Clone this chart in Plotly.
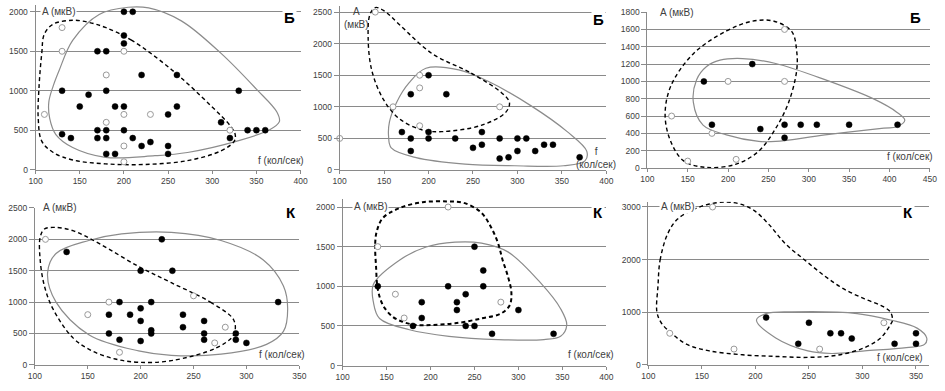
import plotly.graph_objects as go

W, H = 945, 391

# ---------------- Panel 1 (Б) ----------------
P1_FILLED_X = [200, 210, 200, 200, 170, 180, 220, 260, 130, 180, 330, 160, 150, 190, 200, 260, 250, 310,
               130, 140, 170, 180, 200, 170, 180, 210, 340, 350, 360, 320, 220, 230, 250, 250, 180, 190]
P1_FILLED_Y = [2000, 2000, 1700, 1600, 1500, 1500, 1200, 1200, 1000, 1000, 1000, 950, 800, 800, 800, 800, 700, 600,
               450, 400, 500, 500, 500, 400, 400, 400, 500, 500, 500, 400, 300, 350, 300, 200, 200, 200]
P1_OPEN_X = [130, 130, 110, 180, 200, 180, 200, 230, 320, 200, 200]
P1_OPEN_Y = [1800, 1500, 700, 1200, 1500, 600, 700, 700, 500, 300, 100]
P1_SOLID_X = [310, 265, 228, 205, 172, 142, 127, 120, 115, 116, 123, 142, 179, 235, 272, 328, 365, 376, 373, 350, 310]
P1_SOLID_Y = [1473, 1885, 2049, 2058, 1967, 1638, 1267, 1062, 856, 650, 444, 280, 156, 177, 218, 362, 506, 609, 733, 1020, 1473]
P1_DASH_X = [254, 209, 179, 161, 142, 120, 110, 107, 104, 103, 107, 120, 142, 179, 224, 272, 310, 325, 326, 321, 298, 254]
P1_DASH_Y = [1267, 1638, 1802, 1864, 1893, 1844, 1720, 1473, 1062, 650, 362, 218, 123, 74, 66, 115, 239, 362, 444, 547, 815, 1267]

# ---------------- Panel 2 (Б) ----------------
P2_FILLED_X = [200, 180, 220, 170, 180, 200, 200, 230, 180, 260, 260, 250, 280, 280, 290, 300, 310, 300, 320, 330, 340, 370]
P2_FILLED_Y = [1500, 1200, 1200, 600, 500, 600, 500, 500, 300, 600, 400, 350, 500, 180, 200, 500, 500, 300, 300, 400, 400, 200]
P2_OPEN_X = [140, 190, 190, 160, 280, 190, 100]
P2_OPEN_Y = [2500, 1500, 1300, 1000, 1000, 700, 500]
P2_SOLID_X = [315, 356, 378, 376, 352, 297, 241, 186, 158, 155, 156, 164, 178, 197, 234, 267, 315]
P2_SOLID_Y = [1019, 607, 298, 144, 67, 67, 93, 195, 350, 530, 761, 1070, 1378, 1610, 1584, 1404, 1019]
P2_DASH_X = [204, 248, 282, 291, 287, 260, 215, 193, 167, 149, 136, 132, 134, 140, 150, 167, 204]
P2_DASH_Y = [1842, 1533, 1224, 1070, 916, 710, 607, 633, 813, 1121, 1584, 2099, 2459, 2572, 2520, 2305, 1842]

# ---------------- Panel 3 (Б) ----------------
P3_FILLED_X = [170, 230, 180, 240, 270, 270, 290, 310, 350, 410]
P3_FILLED_Y = [1000, 1200, 500, 450, 500, 350, 500, 500, 500, 500]
P3_OPEN_X = [270, 200, 270, 130, 180, 150, 210]
P3_OPEN_Y = [1600, 1000, 1000, 600, 400, 80, 100]
P3_SOLID_X = [320, 381, 409, 419, 409, 393, 320, 259, 238, 198, 169, 157, 161, 173, 190, 218, 259, 320]
P3_SOLID_Y = [1020, 795, 645, 551, 476, 461, 382, 307, 307, 382, 495, 757, 1020, 1170, 1245, 1264, 1207, 1020]
P3_DASH_X = [157, 198, 230, 257, 279, 285, 285, 275, 259, 238, 210, 173, 145, 129, 122, 129, 157]
P3_DASH_Y = [1320, 1582, 1695, 1695, 1575, 1350, 1125, 757, 457, 195, 45, 7, 82, 307, 607, 945, 1320]

# ---------------- Panel 4 (К) ----------------
P4_FILLED_X = [130, 220, 200, 230, 180, 210, 330, 200, 170, 190, 200, 240, 260, 240, 210, 210, 170, 260, 290, 180, 200, 260, 290, 300]
P4_FILLED_Y = [1800, 2000, 1500, 1500, 1000, 1000, 1000, 900, 800, 800, 700, 800, 700, 600, 550, 500, 500, 500, 500, 400, 380, 400, 400, 350]
P4_OPEN_X = [110, 170, 150, 250, 280, 270, 180]
P4_OPEN_Y = [2000, 1000, 800, 1100, 600, 350, 200]
P4_SOLID_X = [229, 276, 316, 335, 339, 335, 319, 276, 229, 198, 151, 120, 112, 120, 151, 182, 229]
P4_SOLID_Y = [2112, 1982, 1672, 1258, 895, 533, 326, 171, 152, 223, 481, 999, 1465, 1775, 1982, 2086, 2112]
P4_DASH_X = [229, 266, 288, 288, 272, 229, 198, 176, 154, 136, 117, 109, 105, 105, 109, 119, 136, 161, 198, 229]
P4_DASH_Y = [1309, 999, 714, 481, 274, 67, 41, 93, 223, 430, 895, 1258, 1672, 2035, 2164, 2190, 2138, 1931, 1568, 1309]

# ---------------- Panel 5 (К) ----------------
P5_FILLED_X = [140, 250, 260, 260, 220, 240, 230, 230, 190, 190, 180, 240, 250, 300, 270, 340]
P5_FILLED_Y = [1000, 1500, 1200, 1000, 1000, 900, 800, 700, 800, 600, 500, 500, 500, 700, 400, 400]
P5_OPEN_X = [220, 140, 160, 170, 280]
P5_OPEN_Y = [2000, 1500, 900, 600, 800]
P5_SOLID_X = [325, 348, 355, 348, 329, 277, 221, 176, 142, 135, 135, 165, 195, 228, 258, 288, 325]
P5_SOLID_Y = [1045, 717, 512, 369, 328, 328, 369, 451, 594, 799, 1025, 1332, 1496, 1557, 1545, 1434, 1045]
P5_DASH_X = [138, 137, 139, 146, 165, 191, 219, 239, 258, 269, 277, 282, 288, 292, 290, 280, 258, 228, 202, 183, 168, 157, 146, 140, 138]
P5_DASH_Y = [1250, 1537, 1701, 1865, 1988, 2061, 2070, 2049, 1926, 1742, 1537, 1332, 1127, 922, 758, 656, 594, 533, 512, 512, 553, 615, 758, 963, 1250]

# ---------------- Panel 6 (К) ----------------
P6_FILLED_X = [210, 250, 240, 270, 280, 290, 330, 350, 350]
P6_FILLED_Y = [900, 800, 400, 600, 600, 500, 400, 600, 400]
P6_OPEN_X = [160, 120, 180, 260, 320]
P6_OPEN_Y = [3000, 600, 300, 300, 800]
P6_SOLID_X = [234, 210, 201, 219, 249, 271, 302, 341, 358, 360, 351, 326, 295, 234]
P6_SOLID_Y = [1006, 975, 852, 512, 265, 216, 265, 327, 389, 512, 698, 852, 975, 1006]
P6_DASH_X = [109, 111, 118, 127, 142, 157, 173, 186, 199, 213, 228, 246, 265, 283, 302, 317, 326, 328, 326, 317, 302,
             277, 249, 219, 188, 157, 136, 122, 112, 108, 109]
P6_DASH_Y = [1500, 1994, 2488, 2765, 2951, 3056, 3093, 3055, 2930, 2660, 2302, 1994, 1685, 1438, 1253, 1130, 1006, 850,
             759, 512, 327, 185, 142, 160, 191, 265, 389, 593, 800, 1006, 1500]

# tick values
X_TICKS_1 = [100, 150, 200, 250, 300, 350, 400]
X_TICKS_2 = [100, 150, 200, 250, 300, 350, 400]
X_TICKS_3 = [100, 150, 200, 250, 300, 350, 400, 450]
X_TICKS_4 = [100, 150, 200, 250, 300, 350]
X_TICKS_5 = [100, 150, 200, 250, 300, 350, 400]
X_TICKS_6 = [100, 150, 200, 250, 300, 350]
Y_TICKS_1 = [0, 500, 1000, 1500, 2000]
Y_TICKS_2 = [0, 500, 1000, 1500, 2000, 2500]
Y_TICKS_3 = [0, 200, 400, 600, 800, 1000, 1200, 1400, 1600, 1800]
Y_TICKS_4 = [0, 500, 1000, 1500, 2000, 2500]
Y_TICKS_5 = [0, 500, 1000, 1500, 2000]
Y_TICKS_6 = [0, 1000, 2000, 3000]

LETTERS = ["Б", "Б", "Б", "К", "К", "К"]
Y_LABEL = "A (мкВ)"
Y_LABEL_2 = "A<br>(мкВ)"
X_LABEL = "f (кол/сек)"
X_LABEL_2 = "f<br>(кол/сек)"

panels = [
    dict(fx=P1_FILLED_X, fy=P1_FILLED_Y, ox=P1_OPEN_X, oy=P1_OPEN_Y, sx=P1_SOLID_X, sy=P1_SOLID_Y,
         dx=P1_DASH_X, dy=P1_DASH_Y, xt=X_TICKS_1, yt=Y_TICKS_1,
         xr=[100, 400], yr=[0, 2080], px=(29, 298), py=(169, 0.5), dw=1.4),
    dict(fx=P2_FILLED_X, fy=P2_FILLED_Y, ox=P2_OPEN_X, oy=P2_OPEN_Y, sx=P2_SOLID_X, sy=P2_SOLID_Y,
         dx=P2_DASH_X, dy=P2_DASH_Y, xt=X_TICKS_2, yt=Y_TICKS_2,
         xr=[100, 400], yr=[0, 2600], px=(337.7, 608.3), py=(169.3, 0.8), dw=1.4),
    dict(fx=P3_FILLED_X, fy=P3_FILLED_Y, ox=P3_OPEN_X, oy=P3_OPEN_Y, sx=P3_SOLID_X, sy=P3_SOLID_Y,
         dx=P3_DASH_X, dy=P3_DASH_Y, xt=X_TICKS_3, yt=Y_TICKS_3,
         xr=[100, 450], yr=[0, 1800], px=(650, 936.7), py=(167.3, 7.3), dw=1.4),
    dict(fx=P4_FILLED_X, fy=P4_FILLED_Y, ox=P4_OPEN_X, oy=P4_OPEN_Y, sx=P4_SOLID_X, sy=P4_SOLID_Y,
         dx=P4_DASH_X, dy=P4_DASH_Y, xt=X_TICKS_4, yt=Y_TICKS_4,
         xr=[100, 350], yr=[0, 2500], px=(28.3, 296.7), py=(369.3, 208.3), dw=1.4),
    dict(fx=P5_FILLED_X, fy=P5_FILLED_Y, ox=P5_OPEN_X, oy=P5_OPEN_Y, sx=P5_SOLID_X, sy=P5_SOLID_Y,
         dx=P5_DASH_X, dy=P5_DASH_Y, xt=X_TICKS_5, yt=Y_TICKS_5,
         xr=[100, 400], yr=[0, 2100], px=(340.7, 608.3), py=(370, 199.2), dw=2.0),
    dict(fx=P6_FILLED_X, fy=P6_FILLED_Y, ox=P6_OPEN_X, oy=P6_OPEN_Y, sx=P6_SOLID_X, sy=P6_SOLID_Y,
         dx=P6_DASH_X, dy=P6_DASH_Y, xt=X_TICKS_6, yt=Y_TICKS_6,
         xr=[100, 362], yr=[0, 3100], px=(651, 935.7), py=(369.3, 201.9), dw=1.4),
]

GRID = "#8a8a8a"
AXIS = "#8a8a8a"
TXT = "#404040"
FONT = "Liberation Sans, Arial, sans-serif"

fig = go.Figure()
layout = dict(width=W, height=H, margin=dict(l=0, r=0, t=0, b=0),
              paper_bgcolor="white", plot_bgcolor="white", showlegend=False,
              font=dict(family=FONT, size=9, color=TXT))
annotations = []

for i, p in enumerate(panels):
    n = i + 1
    xa = "x" if n == 1 else f"x{n}"
    ya = "y" if n == 1 else f"y{n}"
    xkey = "xaxis" if n == 1 else f"xaxis{n}"
    ykey = "yaxis" if n == 1 else f"yaxis{n}"
    layout[xkey] = dict(domain=[p["px"][0] / W, p["px"][1] / W], range=p["xr"], anchor=ya,
                        tickmode="array", tickvals=p["xt"], ticktext=[str(v) for v in p["xt"]],
                        showgrid=False, zeroline=False, showline=True, linecolor=AXIS, linewidth=1,
                        ticks="outside", ticklen=3, tickcolor=AXIS, tickwidth=1,
                        tickfont=dict(size=8.5, color=TXT, family=FONT), fixedrange=True)
    layout[ykey] = dict(domain=[1 - p["py"][0] / H, 1 - p["py"][1] / H], range=p["yr"], anchor=xa,
                        tickmode="array", tickvals=p["yt"], ticktext=[str(v) for v in p["yt"]],
                        showgrid=True, gridcolor=GRID, gridwidth=1, zeroline=False,
                        showline=True, linecolor=AXIS, linewidth=1,
                        ticks="outside", ticklen=5, tickcolor=AXIS, tickwidth=1,
                        tickfont=dict(size=8.5, color=TXT, family=FONT), fixedrange=True)

    fig.add_trace(go.Scatter(x=p["sx"], y=p["sy"], mode="lines", xaxis=xa, yaxis=ya,
                             line=dict(color="#8c8c8c", width=1.2, shape="spline", smoothing=1.0),
                             hoverinfo="skip"))
    fig.add_trace(go.Scatter(x=p["dx"], y=p["dy"], mode="lines", xaxis=xa, yaxis=ya,
                             line=dict(color="black", width=p["dw"], dash="4px,3px", shape="spline", smoothing=1.0),
                             hoverinfo="skip"))
    fig.add_trace(go.Scatter(x=p["fx"], y=p["fy"], mode="markers", xaxis=xa, yaxis=ya, cliponaxis=False,
                             marker=dict(size=6, color="black", line=dict(color="black", width=0.5))))
    fig.add_trace(go.Scatter(x=p["ox"], y=p["oy"], mode="markers", xaxis=xa, yaxis=ya, cliponaxis=False,
                             marker=dict(size=6, color="white", line=dict(color="#9a9a9a", width=1))))

# axis labels and panel letters (positions in pixels)
YLAB_POS = [(34, 7, Y_LABEL), (355, 13, Y_LABEL_2), (661, 7.3, Y_LABEL),
            (35, 208.3, Y_LABEL), (350, 207.3, Y_LABEL), (662, 207.3, Y_LABEL)]
for k, (x, y, t) in enumerate(YLAB_POS):
    annotations.append(dict(xref="paper", yref="paper", x=x / W, y=1 - y / H, text=t, showarrow=False,
                            xanchor="center" if k == 1 else "left", yanchor="middle",
                            bgcolor="white" if k != 1 else None, borderpad=1,
                            font=dict(size=10, color=TXT, family=FONT)))

XLAB_POS = [(303, 160, X_LABEL), (597.5, 157, X_LABEL_2), (942, 155, X_LABEL),
            (305, 359, X_LABEL), (618, 359, X_LABEL), (932, 361.7, X_LABEL)]
for k, (x, y, t) in enumerate(XLAB_POS):
    annotations.append(dict(xref="paper", yref="paper", x=x / W, y=1 - y / H, text=t, showarrow=False,
                            xanchor="center" if k == 1 else "right", yanchor="middle",
                            font=dict(size=10, color=TXT, family=FONT)))

LET_POS = [(287, 13), (600, 15), (922, 13), (288, 213), (600, 213), (915, 213)]
for (x, y), t in zip(LET_POS, LETTERS):
    annotations.append(dict(xref="paper", yref="paper", x=x / W, y=1 - y / H, text=f"<b>{t}</b>",
                            showarrow=False, xanchor="center", yanchor="middle", bgcolor="white",
                            font=dict(size=15, color="black", family=FONT)))

layout["annotations"] = annotations
layout["hovermode"] = False
fig.update_layout(**layout)
fig.write_html("out.html", config={"displayModeBar": False, "staticPlot": True},
               post_script="document.body.style.margin='0px';document.body.style.padding='0px';")
